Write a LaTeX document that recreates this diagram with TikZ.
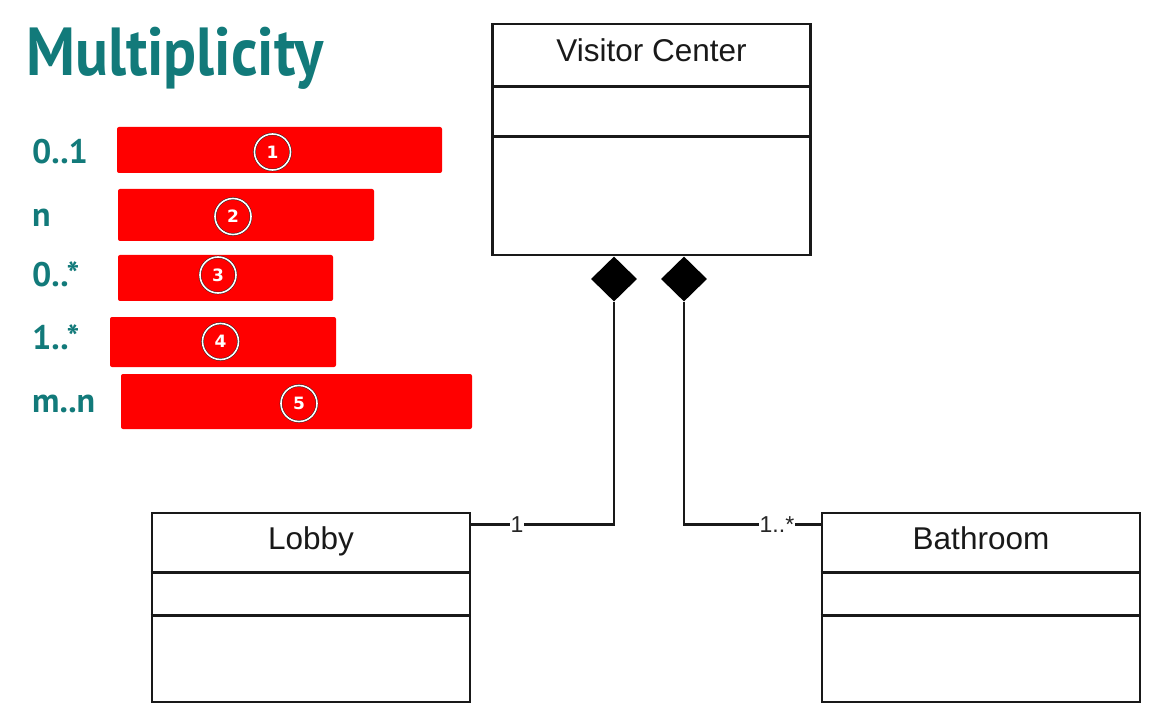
\documentclass[tikz,border=0pt]{standalone}
\usepackage{fontspec}
\setmainfont{Liberation Sans}
\newfontfamily\headfont[FakeStretch=0.9]{PT Sans}
\newfontfamily\multfont{PT Sans}
\newfontfamily\badgefont{DejaVu Sans}
\usepackage{tikz}
\usetikzlibrary{
  shapes.geometric,
  positioning, calc
}
\definecolor{tealhead}{RGB}{18,122,122}
\definecolor{maskred}{RGB}{255,0,0}
\definecolor{umlline}{RGB}{25,25,25}
\tikzset{
  classbox/.style={rectangle,draw=umlline,line width=2.6pt,minimum width=318pt,minimum height=189pt,inner sep=0pt},
  classname/.style={font=\fontsize{31.5}{36}\selectfont,text=black!90,inner sep=0pt,anchor=base},
  comppart/.style={draw=umlline,line width=2.6pt},
  compdiamond/.style={diamond,fill=black,aspect=1,minimum width=46pt,minimum height=45pt,inner sep=0pt},
  assoc/.style={draw=umlline,line width=2.6pt},
  multlabel/.style={fill=white,inner sep=1pt,font=\fontsize{23}{26}\selectfont,text=black!85},
  headtext/.style={text=tealhead,font=\headfont\bfseries\fontsize{68}{72}\selectfont,inner sep=0pt},
  multtext/.style={text=tealhead,font=\multfont\bfseries\fontsize{34}{38}\selectfont,inner sep=0pt},
  badge/.style={circle,fill=maskred,draw=black!85,double=white,double distance=1.6pt,line width=0.5pt,
    minimum size=36pt,inner sep=0pt,text=white,font=\badgefont\bfseries\fontsize{17}{19}\selectfont}
}

\begin{document}
\begin{tikzpicture}[x=1pt,y=-1pt]
  \useasboundingbox[fill=white] (0,0) rectangle (1160,714);

  %% Left: multiplicity list
  \node[headtext,anchor=base west] (title) at (26,76) {Multiplicity};
  \foreach \name/\yy/\txt in {m01/164/{0..1},mn/227/n,m0s/287/{0..*},m1s/349/{1..*},mmn/412/{m..n}} {
    \node[multtext,anchor=base west] (\name) at (32,\yy) {\txt};
  }

  %% Red masks with numbered badges
  \foreach \k/\xa/\ya/\xb/\yb/\cx/\cy in {1/117/127/442/173/272.5/152,
      2/118/189/374/241/233/216.5,3/118/255/333/301/218/275,
      4/110/317/336/367/220.5/341.5,5/121/374/472/429/299/403.5} {
    \fill[maskred,rounded corners=2pt] (\xa,\ya) rectangle (\xb,\yb);
    \node[badge] (badge\k) at (\cx,\cy) {\k};
  }

  %% Classes
  \node[classbox,minimum height=231pt] (vc) at (651.5,139.5) {};
  \node[classname] (vcname) at ($(vc.north)+(0,38.5)$) {Visitor Center};
  \draw[comppart] ($(vc.north west)+(0,64)$) -- ($(vc.north east)+(0,64)$);
  \draw[comppart] ($(vc.north west)+(0,114)$) -- ($(vc.north east)+(0,114)$);

  \node[classbox] (lobby) at (311,607.5) {};
  \node[classname] (lobbyname) at ($(lobby.north)+(0,38)$) {Lobby};
  \draw[comppart] ($(lobby.north west)+(0,61)$) -- ($(lobby.north east)+(0,61)$);
  \draw[comppart] ($(lobby.north west)+(0,104)$) -- ($(lobby.north east)+(0,104)$);

  \node[classbox] (bath) at (981,607.5) {};
  \node[classname] (bathname) at ($(bath.north)+(0,38)$) {Bathroom};
  \draw[comppart] ($(bath.north west)+(0,61)$) -- ($(bath.north east)+(0,61)$);
  \draw[comppart] ($(bath.north west)+(0,104)$) -- ($(bath.north east)+(0,104)$);

  %% Composition diamonds
  \node[compdiamond,anchor=north] (dlobby) at ($(vc.south)+(-37.5,0)$) {};
  \node[compdiamond,anchor=north] (dbath) at ($(vc.south)+(32.5,0)$) {};

  %% Associations
  \coordinate (lobbyport) at ($(lobby.north east)+(0,13)$);
  \coordinate (bathport) at ($(bath.north west)+(0,13)$);
  \draw[assoc] (dlobby.south) |- node[multlabel,pos=0.84] {1} (lobbyport);
  \draw[assoc] (dbath.south) |- node[multlabel,pos=0.84] {1..*} (bathport);
\end{tikzpicture}
\end{document}
